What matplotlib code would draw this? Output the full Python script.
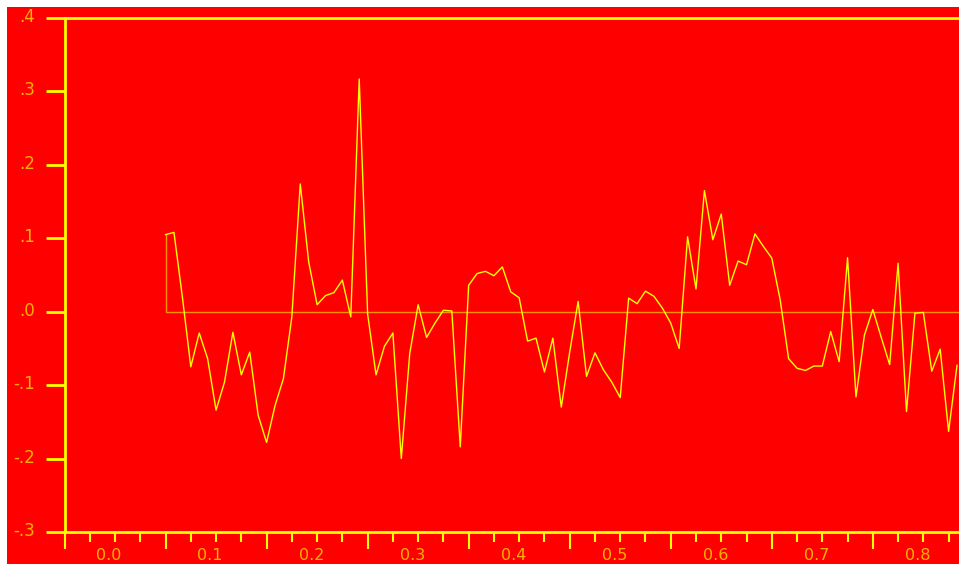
import matplotlib
matplotlib.use("Agg")
import matplotlib.pyplot as plt
from matplotlib.patches import Rectangle
import numpy as np

# monthly anomaly series (index = month)
values = [0.105, 0.108, 0.020, -0.075, -0.029, -0.064, -0.134, -0.096, -0.028, -0.086,
          -0.055, -0.141, -0.178, -0.128, -0.091, -0.007, 0.174, 0.068, 0.0095, 0.022,
          0.026, 0.043, -0.007, 0.317, -0.003, -0.086, -0.047, -0.029, -0.200, -0.057,
          0.0095, -0.035, -0.0155, 0.002, 0.001, -0.184, 0.036, 0.052, 0.055, 0.049,
          0.061, 0.027, 0.019, -0.040, -0.036, -0.082, -0.036, -0.130, -0.055, 0.014,
          -0.088, -0.056, -0.079, -0.096, -0.117, 0.0185, 0.011, 0.028, 0.021, 0.005,
          -0.0155, -0.050, 0.102, 0.031, 0.165, 0.098, 0.133, 0.036, 0.069, 0.064,
          0.106, 0.089, 0.073, 0.016, -0.064, -0.077, -0.080, -0.074, -0.074, -0.027,
          -0.068, 0.0735, -0.116, -0.032, 0.003, -0.035, -0.072, 0.066, -0.136, -0.002,
          -0.001, -0.081, -0.051, -0.163, -0.073]
months = list(range(len(values)))

x_labels = ["0.0", "0.1", "0.2", "0.3", "0.4", "0.5", "0.6", "0.7", "0.8"]
y_ticks = [0.4, 0.3, 0.2, 0.1, 0.0, -0.1, -0.2, -0.3]
y_labels = [".4", ".3", ".2", ".1", ".0", "-.1", "-.2", "-.3"]

W, H = 959, 564
fig = plt.figure(figsize=(W / 100, H / 100), dpi=100, facecolor="white")
bg = Rectangle((7 / W, 0), 1, (H - 7) / H, transform=fig.transFigure,
               facecolor="#ff0000", edgecolor="none", zorder=-10)
fig.patches.append(bg)

ax_l, ax_r, ax_t, ax_b = 64.5, 959.0, 18.0, 532.0
ax = fig.add_axes([ax_l / W, (H - ax_b) / H, (ax_r - ax_l) / W, (ax_b - ax_t) / H])
ax.set_zorder(1)
ax.set_facecolor("#ff0000")

xmin = -12.0
xmax = xmin + (ax_r - ax_l) / 8.42

yellow = "#ffff00"
label_col = "#ffb000"

# baseline with vertical start
ax.plot([months[0], months[0], xmax + 5], [values[0], 0, 0], color="#ff9000", lw=1.0,
        zorder=2)
ax.plot(months, values, color=yellow, lw=1.0, zorder=3)

for s in ["left", "top", "bottom"]:
    ax.spines[s].set_color(yellow)
    ax.spines[s].set_linewidth(2)
ax.spines["right"].set_visible(False)

ax.set_xticks(np.arange(-12, 100, 12))
ax.set_xticks(np.arange(-12, 100, 3), minor=True)
ax.tick_params(axis="x", which="major", direction="out", length=12, width=1.5,
               color=yellow, labelbottom=False)
ax.tick_params(axis="x", which="minor", direction="out", length=7, width=1.5,
               color=yellow, labelbottom=False)
ax.set_yticks(y_ticks)
ax.tick_params(axis="y", which="major", direction="out", length=14, width=2,
               color=yellow, labelleft=False)

ax.set_xlim(xmin, xmax)
ax.set_ylim(-0.3, 0.4)

for k, lab in enumerate(x_labels):
    ax.text(-6.7 + 12 * k, -(560 - ax_b) / (ax_b - ax_t), lab,
            transform=ax.get_xaxis_transform(), ha="center", va="baseline",
            color=label_col, fontsize=11.5, family="DejaVu Sans", clip_on=False)

for v, lab in zip(y_ticks, y_labels):
    ax.text((35 - ax_l) / (ax_r - ax_l), v - 0.0054, lab,
            transform=ax.get_yaxis_transform(), ha="right", va="baseline",
            color=label_col, fontsize=12, family="DejaVu Sans", clip_on=False)

fig.savefig("out.png", dpi=100, facecolor="white")
